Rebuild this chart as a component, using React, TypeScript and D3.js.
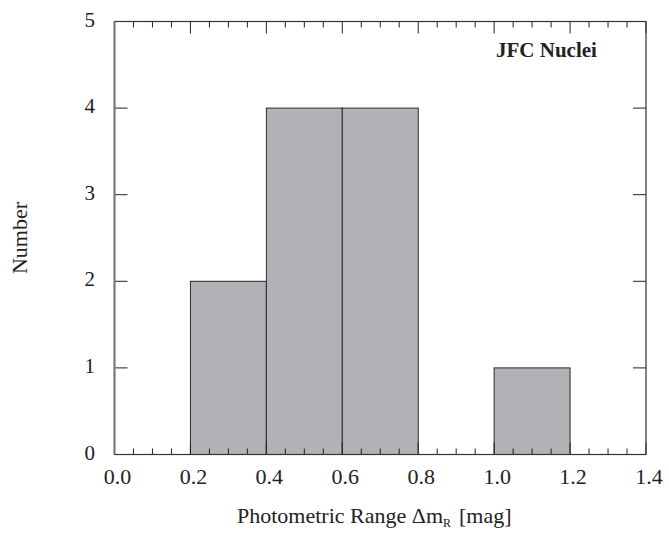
import React from "react";
import * as d3 from "d3";

const binStarts = [0.0, 0.2, 0.4, 0.6, 0.8, 1.0, 1.2];
const binCounts = [0, 2, 4, 4, 0, 1, 0];
const binWidth = 0.2;
const xTicks = [0.0, 0.2, 0.4, 0.6, 0.8, 1.0, 1.2, 1.4];
const yTicks = [0, 1, 2, 3, 4, 5];
const title = "JFC Nuclei";

export default function App() {
  const W = 669, H = 533;
  const L = 114.5, R = 646, T = 21.5, B = 454.5;
  const x = d3.scaleLinear().domain([0, 1.4]).range([L, R]);
  const y = d3.scaleLinear().domain([0, 5]).range([B, T]);
  const font = "'Liberation Serif', 'DejaVu Serif', serif";
  const minor = d3.range(0, 1.4001, 0.05).filter((v) => Math.abs(v / 0.2 - Math.round(v / 0.2)) > 1e-6);
  return (
    <svg width={W} height={H} style={{ position: "absolute", left: 0, top: 0 }} fontFamily={font}>
      <rect width={W} height={H} fill="#fff" />
      {binStarts.map((s, i) =>
        binCounts[i] > 0 ? (
          <rect key={i} x={x(s)} y={y(binCounts[i])} width={x(s + binWidth) - x(s)} height={y(0) - y(binCounts[i])}
            fill="#b1b2b5" stroke="#2a2a2a" strokeWidth={1} />
        ) : null
      )}
      {xTicks.map((t) => (
        <g key={t}>
          <line x1={x(t)} x2={x(t)} y1={B} y2={B - 12} stroke="#222" />
          <line x1={x(t)} x2={x(t)} y1={T} y2={T + 12} stroke="#222" />
          <text x={x(t) + 3} y={484} fontSize={22} textAnchor="middle" fill="#222">{t.toFixed(1)}</text>
        </g>
      ))}
      {minor.map((t) => (
        <g key={"m" + t}>
          <line x1={x(t)} x2={x(t)} y1={B} y2={B - 6} stroke="#222" />
          <line x1={x(t)} x2={x(t)} y1={T} y2={T + 6} stroke="#222" />
        </g>
      ))}
      {yTicks.map((t) => (
        <g key={"y" + t}>
          <line x1={L} x2={L + 13} y1={y(t)} y2={y(t)} stroke="#222" />
          <line x1={R} x2={R - 13} y1={y(t)} y2={y(t)} stroke="#222" />
          <text x={95} y={y(t) + 5} fontSize={21} textAnchor="end" fill="#222">{t}</text>
        </g>
      ))}
      <rect x={L} y={T} width={R - L} height={B - T} fill="none" stroke="#333" strokeWidth={1.2} />
      <line x1={L} x2={L} y1={T} y2={B} stroke="#777" strokeWidth={2} />
      <text x={496} y={57} fontSize={21} fontWeight="bold" fill="#222">{title}</text>
      <text x={237} y={523} fontSize={22} fill="#222">
        Photometric Range Δm<tspan fontSize={12} dy={4}>R</tspan>
        <tspan dy={-4} dx={8}>[mag]</tspan>
      </text>
      <text transform={`translate(27,238) rotate(-90)`} fontSize={22} textAnchor="middle" fill="#222">Number</text>
    </svg>
  );
}
